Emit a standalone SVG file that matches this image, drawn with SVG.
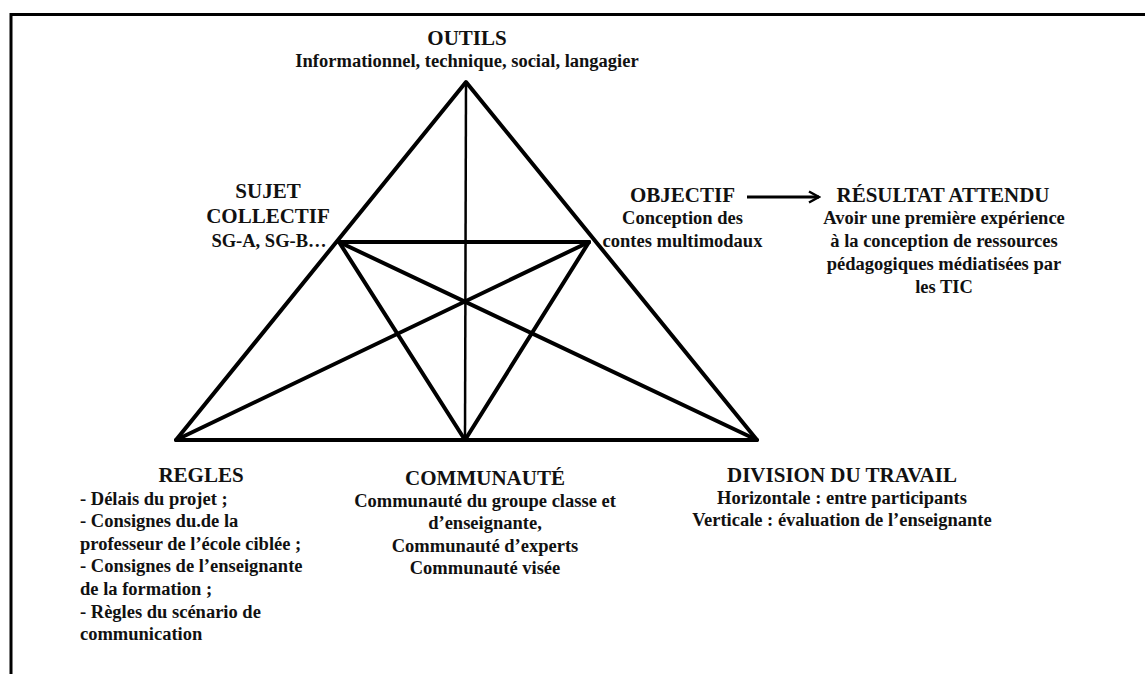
<svg xmlns="http://www.w3.org/2000/svg" width="1145" height="674" viewBox="0 0 1145 674">
<style>
text{font-family:"Liberation Serif","Times New Roman",serif;font-weight:bold;fill:#111;text-anchor:middle}
.h{font-size:21px}
.b{font-size:18.5px}
.l{text-anchor:start}
.ln{stroke:#000;stroke-width:4;fill:none;stroke-linecap:round;stroke-linejoin:round}
.thin{stroke:#000;stroke-width:2.5;fill:none}
.frame{stroke:#000;stroke-width:3;fill:none}
</style>
<defs>
<marker id="arr" viewBox="0 0 14 14" refX="12" refY="7" markerWidth="14" markerHeight="14" markerUnits="userSpaceOnUse" orient="auto">
<path d="M2,1.5 L12,7 L2,12.5" fill="none" stroke="#000" stroke-width="2.5" stroke-linejoin="miter"/>
</marker>
</defs>
<rect width="1145" height="674" fill="#fff"/>
<g id="frame">
<path class="frame" d="M11,674 V14.5 H1145"/>
</g>
<g id="connectors">
<polygon class="ln" points="176,440 466,82 757,440"/>
<line class="thin" x1="466" y1="82" x2="465" y2="440"/>
<line class="ln" x1="339" y1="242" x2="589" y2="242"/>
<line class="ln" x1="339" y1="242" x2="465" y2="440"/>
<line class="ln" x1="589" y1="242" x2="465" y2="440"/>
<line class="ln" x1="339" y1="242" x2="757" y2="440"/>
<line class="ln" x1="589" y1="242" x2="176" y2="440"/>
<line x1="747" y1="197" x2="819" y2="197" stroke="#000" stroke-width="3" marker-end="url(#arr)"/>
</g>
<g id="outils">
<text class="h" x="467" y="45">OUTILS</text>
<text class="b" x="467" y="67">Informationnel, technique, social, langagier</text>
</g>
<g id="sujet">
<text class="h" x="268" y="198">SUJET</text>
<text class="h" x="268" y="223">COLLECTIF</text>
<text class="b" x="269" y="247">SG-A, SG-B…</text>
</g>
<g id="objectif">
<text class="h" x="682.5" y="202">OBJECTIF</text>
<text class="b" x="682.5" y="224">Conception des</text>
<text class="b" x="682.5" y="246.7">contes multimodaux</text>
</g>
<g id="resultat">
<text class="h" x="943" y="202">RÉSULTAT ATTENDU</text>
<text class="b" x="944" y="224">Avoir une première expérience</text>
<text class="b" x="944" y="246.7">à la conception de ressources</text>
<text class="b" x="944" y="270">pédagogiques médiatisées par</text>
<text class="b" x="944" y="292.7">les TIC</text>
</g>
<g id="regles">
<text class="h" x="201" y="481.7">REGLES</text>
<text class="b l" x="80" y="505">- Délais du projet ;</text>
<text class="b l" x="80" y="527.3">- Consignes du.de la</text>
<text class="b l" x="80" y="550">professeur de l’école ciblée ;</text>
<text class="b l" x="80" y="572.3">- Consignes de l’enseignante</text>
<text class="b l" x="80" y="595">de la formation ;</text>
<text class="b l" x="80" y="618.3">- Règles du scénario de</text>
<text class="b l" x="80" y="640">communication</text>
</g>
<g id="communaute">
<text class="h" x="485" y="485">COMMUNAUTÉ</text>
<text class="b" x="485" y="506.7">Communauté du groupe classe et</text>
<text class="b" x="485" y="529.3">d’enseignante,</text>
<text class="b" x="485" y="551.7">Communauté d’experts</text>
<text class="b" x="485" y="574">Communauté visée</text>
</g>
<g id="division">
<text class="h" x="842" y="482.3">DIVISION DU TRAVAIL</text>
<text class="b" x="842" y="504">Horizontale : entre participants</text>
<text class="b" x="842" y="526">Verticale : évaluation de l’enseignante</text>
</g>
</svg>
